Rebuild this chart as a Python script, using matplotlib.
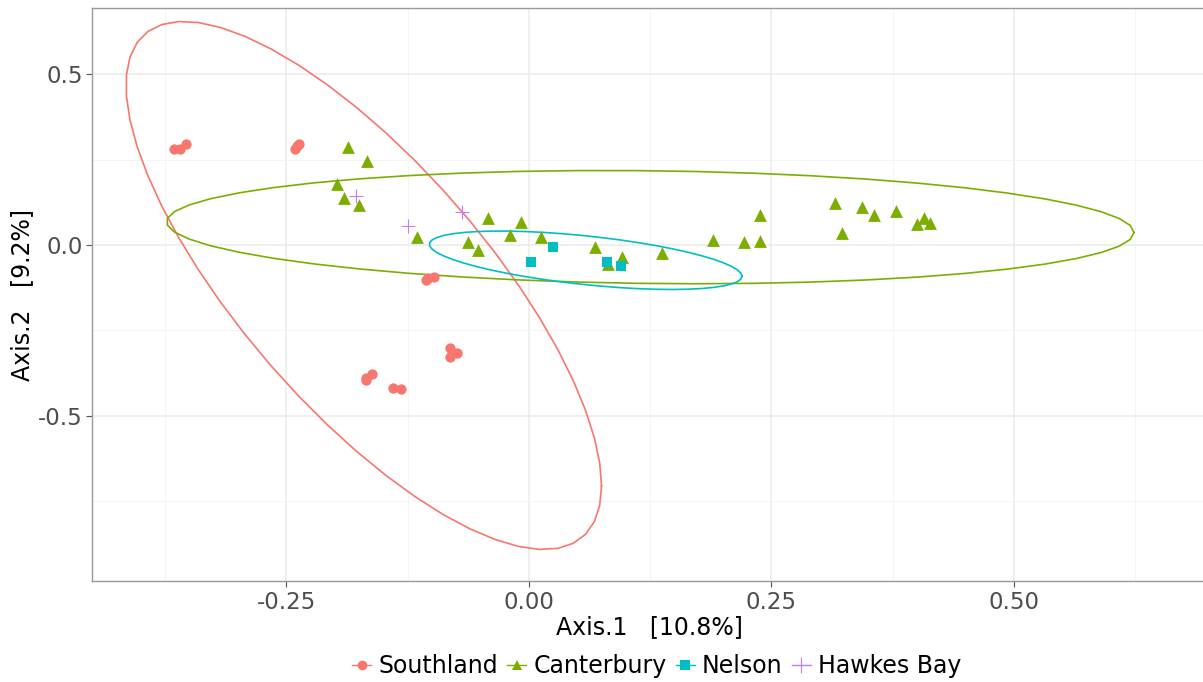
import numpy as np
import matplotlib
matplotlib.use("Agg")
import matplotlib.pyplot as plt
from matplotlib.lines import Line2D

# PCoA coordinates
south_x = [-0.366, -0.360, -0.353, -0.241, -0.239, -0.237, -0.106, -0.104, -0.098,
           -0.168, -0.168, -0.162, -0.140, -0.132, -0.081, -0.074, -0.081]
south_y = [0.281, 0.282, 0.295, 0.281, 0.290, 0.295, -0.103, -0.096, -0.093,
           -0.391, -0.397, -0.379, -0.419, -0.421, -0.303, -0.318, -0.329]

cant_x = [-0.187, -0.167, -0.198, -0.191, -0.175, -0.115, -0.042, -0.008, -0.063, -0.053,
          -0.019, 0.012, 0.068, 0.096, 0.081, 0.137, 0.190, 0.222, 0.238, 0.238,
          0.315, 0.343, 0.356, 0.378, 0.400, 0.407, 0.413, 0.323]
cant_y = [0.288, 0.247, 0.179, 0.138, 0.116, 0.024, 0.080, 0.067, 0.008, -0.015,
          0.029, 0.024, -0.007, -0.036, -0.056, -0.023, 0.015, 0.009, 0.012, 0.089,
          0.124, 0.112, 0.089, 0.101, 0.061, 0.078, 0.064, 0.034]

nel_x = [0.025, 0.002, 0.080, 0.095]
nel_y = [-0.007, -0.051, -0.049, -0.062]

hb_x = [-0.178, -0.125, -0.069]
hb_y = [0.144, 0.056, 0.098]

groups = ["Southland", "Canterbury", "Nelson", "Hawkes Bay"]
colors = ["#F8766D", "#7CAE00", "#00BFC4", "#C77CFF"]
markers = ["o", "^", "s", "+"]


def cov_trob(x, nu=5, maxit=25, tol=0.01):
    # port of MASS::cov.trob (unit weights)
    n, p = x.shape
    loc = x.mean(axis=0)
    w = np.ones(n)
    for _ in range(maxit):
        w0 = w
        X = x - loc
        _, d, vt = np.linalg.svd(np.sqrt(w / w.sum())[:, None] * X, full_matrices=False)
        wX = X @ vt.T @ np.diag(1 / d)
        Q = (wX ** 2).sum(axis=1)
        w = (nu + p) / (nu + Q)
        loc = (w[:, None] * x).sum(axis=0) / w.sum()
        if np.all(np.abs(w - w0) < tol):
            break
    cov = (np.sqrt(w)[:, None] * X).T @ (np.sqrt(w)[:, None] * X) / n
    return loc, cov


def t_ellipse(xs, ys, level=0.95, segments=51):
    pts = np.column_stack([xs, ys])
    center, shape = cov_trob(pts)
    dfd = len(xs) - 1
    # F quantile with 2 numerator df has a closed form
    qf = dfd / 2 * ((1 - level) ** (-2 / dfd) - 1)
    radius = np.sqrt(2 * qf)
    chol = np.linalg.cholesky(shape).T
    ang = np.linspace(0, 2 * np.pi, segments + 1)
    circ = np.column_stack([np.cos(ang), np.sin(ang)])
    e = center + radius * circ @ chol
    return e[:, 0], e[:, 1]


fig = plt.figure(figsize=(12.03, 6.82), dpi=100)
ax = fig.add_axes([0.0767, 0.1481, 0.927, 0.8397])

ax.set_xlim(-0.4501, 0.6994)
ax.set_ylim(-0.985, 0.694)

ax.set_xticks([-0.25, 0.0, 0.25, 0.5])
ax.set_xticklabels(["-0.25", "0.00", "0.25", "0.50"])
ax.set_yticks([-0.5, 0.0, 0.5])
ax.set_yticklabels(["-0.5", "0.0", "0.5"])
ax.set_xticks([-0.375, -0.125, 0.125, 0.375, 0.625], minor=True)
ax.set_yticks([-0.75, -0.25, 0.25], minor=True)
ax.grid(which="major", color="#EBEBEB", lw=1.1)
ax.grid(which="minor", color="#F2F2F2", lw=0.6)
ax.set_axisbelow(True)
ax.tick_params(which="major", length=4, color="#555555", labelsize=16.5,
               labelcolor="#4D4D4D", width=0.8, pad=3)
ax.tick_params(which="minor", length=0)
for s in ax.spines.values():
    s.set_color("#999999")
    s.set_linewidth(1.0)

data = [(south_x, south_y), (cant_x, cant_y), (nel_x, nel_y), (hb_x, hb_y)]
sizes = [55, 85, 50, 110]
for (xs, ys), g, c, m, sz in zip(data, groups, colors, markers, sizes):
    ax.scatter(xs, ys, color=c, marker=m, s=sz, linewidths=0.8 if m == "+" else 0,
               zorder=3)
    if len(xs) > 3:
        ex, ey = t_ellipse(xs, ys)
        ax.plot(ex, ey, color=c, lw=1.2, zorder=2)

ax.set_xlabel("Axis.1   [10.8%]", fontsize=17, labelpad=1)
ax.set_ylabel("Axis.2   [9.2%]", fontsize=17, labelpad=3)

handles = [Line2D([0], [0], color=c, marker=m, lw=1.0, markersize=7 if m != "+" else 11,
                  markeredgewidth=0.8 if m == "+" else 0)
           for c, m in zip(colors, markers)]
fig.legend(handles, groups, loc="center", bbox_to_anchor=(0.546, 0.023), ncol=4,
           frameon=False, fontsize=17, handlelength=0.8, handletextpad=0.3,
           columnspacing=0.4)

fig.savefig("out.png", dpi=100)
